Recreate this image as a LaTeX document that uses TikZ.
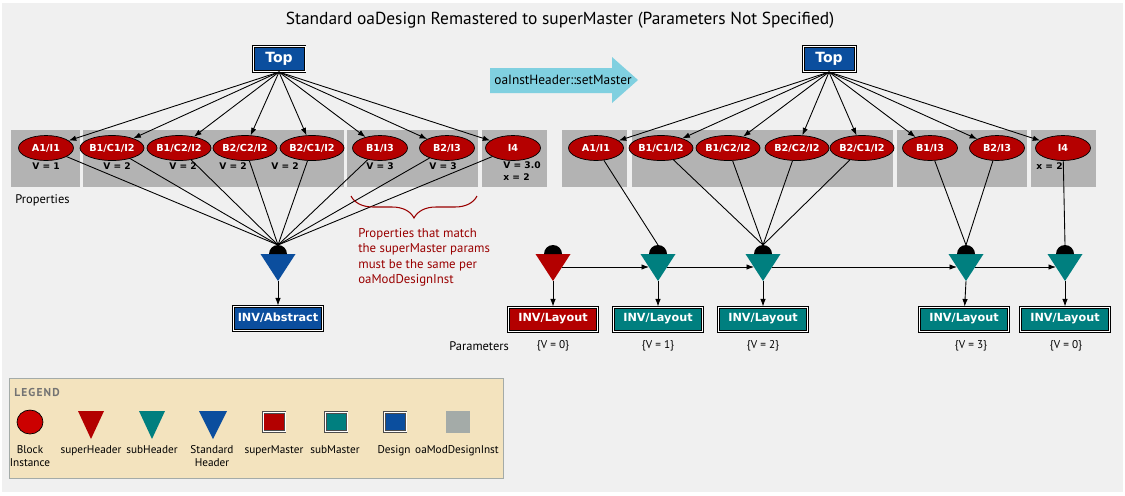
\documentclass[tikz,border=0pt]{standalone}
\usepackage{fontspec}
\setmainfont{PT Sans}
\newfontfamily\heavyfont{DejaVu Sans}
\usetikzlibrary{shapes.geometric,arrows.meta,decorations.pathreplacing}

\definecolor{bggray}{HTML}{F0F0F0}
\definecolor{panelgray}{HTML}{B3B3B3}
\definecolor{instred}{HTML}{B50000}
\definecolor{hdrred}{HTML}{B30000}
\definecolor{subteal}{HTML}{007F7F}
\definecolor{designblue}{HTML}{0B4E9E}
\definecolor{legendbg}{HTML}{F3E3BE}
\definecolor{legendgray}{HTML}{A4ABA8}
\definecolor{arrowblue}{HTML}{80D0E0}
\definecolor{notered}{HTML}{990000}

\begin{document}
\begin{tikzpicture}[x=0.02cm, y=-0.02cm,
  inst/.style={ellipse, draw=black, line width=0.4pt, fill=instred, text=white, inner sep=0,
    minimum width=1.1cm, minimum height=0.5cm, font=\heavyfont\bfseries\fontsize{5.5}{6}\selectfont},
  prop/.style={inner sep=0, font=\heavyfont\bfseries\fontsize{5.2}{6}\selectfont},
  master/.style={draw=black, double=white, double distance=0.5pt, line width=0.6pt, text=white,
    inner sep=0, minimum width=1.78cm, minimum height=0.48cm, font=\heavyfont\bfseries\fontsize{6.4}{7}\selectfont},
  arr/.style={-{Latex[length=1.5mm,width=1.1mm]}, line width=0.5pt},
  link/.style={line width=0.5pt},
  lbl/.style={inner sep=0, font=\fontsize{6.4}{7.6}\selectfont}]

\fill[white] (0,0) rectangle (1125,495);
\fill[bggray] (2,3) rectangle (1123,492);

\node[font=\fontsize{9.9}{11}\selectfont] (title) at (560,20) {Standard oaDesign Remastered to superMaster (Parameters Not Specified)};

% panels
\fill[panelgray] (11,130) rectangle (80,187);
\fill[panelgray] (83,130) rectangle (344,187);
\fill[panelgray] (347,130) rectangle (478,187);
\fill[panelgray] (482,130) rectangle (547,187);
\fill[panelgray] (562,130) rectangle (627,187);
\fill[panelgray] (632,130) rectangle (893,187);
\fill[panelgray] (897,130) rectangle (1027,187);
\fill[panelgray] (1031,130) rectangle (1096,187);

% setMaster arrow
\fill[arrowblue] (490,68) -- (612,68) -- (612,57) -- (638,80) -- (612,103) -- (612,93) -- (490,93) -- cycle;
\node[lbl, anchor=west, font=\fontsize{7.6}{8}\selectfont] (setm) at (494,80) {oaInstHeader::setMaster};

% designs
\node[master, fill=designblue, minimum width=1.04cm, minimum height=0.5cm,
  font=\heavyfont\bfseries\fontsize{8}{9}\selectfont] (topL) at (279,59) {Top};
\node[master, fill=designblue, minimum width=1.04cm, minimum height=0.5cm,
  font=\heavyfont\bfseries\fontsize{8}{9}\selectfont] (topR) at (829,59) {Top};

% instances
\node[inst] (La) at (46,148) {A1/I1};
\node[inst] (Lb) at (112,148) {B1/C1/I2};
\node[inst] (Lc) at (179,148) {B1/C2/I2};
\node[inst] (Ld) at (245,148) {B2/C2/I2};
\node[inst] (Le) at (312,148) {B2/C1/I2};
\node[inst] (Lf) at (380,148) {B1/I3};
\node[inst] (Lg) at (447,148) {B2/I3};
\node[inst] (Lh) at (513,148) {I4};
\node[inst] (Ra) at (596,148) {A1/I1};
\node[inst] (Rb) at (661,148) {B1/C1/I2};
\node[inst] (Rc) at (728,148) {B1/C2/I2};
\node[inst] (Rd) at (797,148) {B2/C2/I2};
\node[inst] (Re) at (862,148) {B2/C1/I2};
\node[inst] (Rf) at (930,148) {B1/I3};
\node[inst] (Rg) at (997,148) {B2/I3};
\node[inst] (Rh) at (1063,148) {I4};

% properties
\node[prop] (pa) at (46,166) {V = 1};
\node[prop] (pb) at (117,166) {V = 2};
\node[prop] (pc) at (183,166) {V = 2};
\node[prop] (pd) at (233,166) {V = 2};
\node[prop] (pe) at (285,166) {V = 2};
\node[prop] (pf) at (380,166) {V = 3};
\node[prop] (pg) at (443,166) {V = 3};
\node[prop, anchor=west] (ph) at (503,165) {V = 3.0};
\node[prop, anchor=west] (ph2) at (503,177) {x = 2};
\node[prop, anchor=west] (rh) at (1036,166) {x = 2};
\node[lbl, anchor=west, font=\fontsize{7.1}{8}\selectfont] (props) at (15,200) {Properties};

% headers
\foreach \x/\c/\n in {278/designblue/hL, 553/hdrred/h0, 658/subteal/h1, 763/subteal/h2, 966/subteal/h3, 1065/subteal/h4} {
  \fill[\c] (\x-17.5,254) -- (\x+17.5,254) -- (\x,281) -- cycle;
  \fill (\x-9,254) arc[start angle=180, end angle=360, radius=9];
  \coordinate (\n) at (\x,245);
  \coordinate (\n-tip) at (\x,281);
  \coordinate (\n-in) at (\x-9,267);
  \coordinate (\n-out) at (\x+9,267);
}

% masters
\node[master, fill=designblue] (absL) at (278,318) {INV/Abstract};
\node[master, fill=hdrred] (m0) at (553,319) {INV/Layout};
\node[master, fill=subteal] (m1) at (658,319) {INV/Layout};
\node[master, fill=subteal] (m2) at (763,319) {INV/Layout};
\node[master, fill=subteal] (m3) at (964,319) {INV/Layout};
\node[master, fill=subteal] (m4) at (1065,319) {INV/Layout};

\node[lbl, anchor=west, font=\fontsize{7.1}{8}\selectfont] (params) at (449,346) {Parameters};
\node[lbl] (v0) at (553,346) {\{V = 0\}};
\node[lbl] (v1) at (658,346) {\{V = 1\}};
\node[lbl] (v2) at (763,346) {\{V = 2\}};
\node[lbl] (v3) at (971,346) {\{V = 3\}};
\node[lbl] (v4) at (1066,346) {\{V = 0\}};

% connectors
\foreach \n in {La,Lb,Lc,Ld,Le,Lf,Lg,Lh} {
  \draw[arr] (topL.south) -- (\n);
  \draw[link] (\n) -- (hL);
}
\foreach \n in {Ra,Rb,Rc,Rd,Re,Rf,Rg,Rh}
  \draw[arr] (topR.south) -- (\n);
\draw[link] (Ra) -- (h1);
\foreach \n in {Rb,Rc,Rd,Re}
  \draw[link] (\n) -- (h2);
\foreach \n in {Rf,Rg}
  \draw[link] (\n) -- (h3);
\draw[link] (Rh) -- (h4);

\draw[arr] (hL-tip) -- (absL);
\foreach \n/\m in {h0/m0, h1/m1, h2/m2, h3/m3, h4/m4}
  \draw[arr] (\n-tip) -- (\m);
\draw[arr] (h0-out) -- (h1-in);
\draw[arr] (h1-out) -- (h2-in);
\draw[arr] (h2-out) -- (h3-in);
\draw[arr] (h3-out) -- (h4-in);

% note
\draw[notered, line width=0.6pt, decorate, decoration={brace, mirror, amplitude=0.44cm, aspect=0.5}]
  (351,196) -- (477,196);
\node[lbl, anchor=north west, align=left, text=notered, font=\fontsize{7.3}{8.8}\selectfont] (note) at (358,228)
  {Properties that match\\the superMaster params\\must be the same per\\oaModDesignInst};

% legend
\draw[legendgray, fill=legendbg] (9,378) rectangle (503,478);
\node[lbl, anchor=west, text=black!55, font=\fontsize{6.5}{7}\selectfont\bfseries\addfontfeatures{LetterSpace=10}] (leg) at (14,392) {LEGEND};
\node[inst, fill=red!80!black, minimum width=0.52cm, minimum height=0.48cm] (lgi) at (30,422) {};
\fill[hdrred] (78,411) -- (104,411) -- (91,439) -- cycle;
\fill[subteal] (139,411) -- (165,411) -- (152,439) -- cycle;
\fill[designblue] (199,411) -- (227,411) -- (213,439) -- cycle;
\node[master, draw=black!70, fill=hdrred, minimum width=0.44cm, minimum height=0.38cm] (lgsm) at (274,422) {};
\node[master, draw=black!70, fill=subteal, minimum width=0.44cm, minimum height=0.38cm] (lgsb) at (336,422) {};
\node[master, draw=black!70, fill=designblue, minimum width=0.44cm, minimum height=0.38cm] (lgds) at (395,422) {};
\fill[legendgray] (446,411) rectangle (470,433);
\node[lbl, anchor=north, align=center] (t1) at (30,445) {Block\\Instance};
\node[lbl, anchor=north] (t2) at (91,445) {superHeader};
\node[lbl, anchor=north] (t3) at (152,445) {subHeader};
\node[lbl, anchor=north, align=center] (t4) at (212,445) {Standard\\Header};
\node[lbl, anchor=north] (t5) at (274,445) {superMaster};
\node[lbl, anchor=north] (t6) at (335,445) {subMaster};
\node[lbl, anchor=north] (t7) at (394,445) {Design};
\node[lbl, anchor=north] (t8) at (457,445) {oaModDesignInst};
\end{tikzpicture}
\end{document}
